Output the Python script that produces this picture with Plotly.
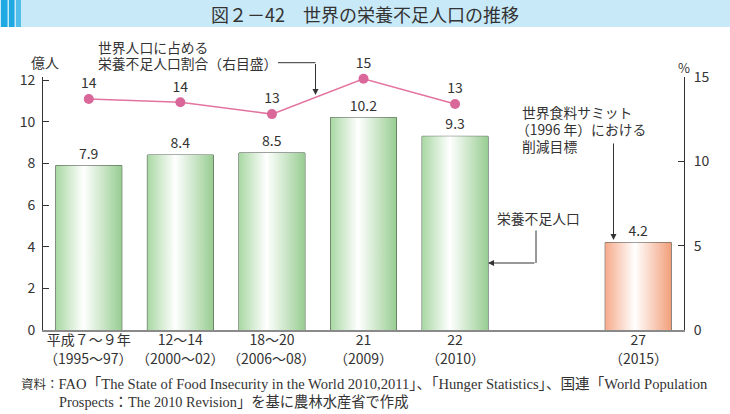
import plotly.graph_objects as go

# ---------------- data ----------------
period_jp = ["平成７～９年", "12～14", "18～20", "21", "22", "27"]
period_ad = ["（1995～97）", "（2000～02）", "（2006～08）", "（2009）", "（2010）", "（2015）"]
x_pos = [0, 1, 2, 3, 4, 6]                     # slot 5 left empty
undernourished = [7.9, 8.4, 8.5, 10.2, 9.3, 4.2]  # 億人
bar_kind = ["actual", "actual", "actual", "actual", "actual", "target"]
share_pct = [13.7, 13.5, 12.8, 14.9, 13.4]       # % (right axis)
share_labels = ["14", "14", "13", "15", "13"]
left_ticks = [0, 2, 4, 6, 8, 10, 12]
right_ticks = [0, 5, 10, 15]

# ---------------- layout geometry ----------------
W, H = 730, 414
L, R, T, B = 43, 46, 77, 84
PW, PH = W - L - R, H - T - B
BAR_W = 0.72


def fx(px):
    return (px - L) / PW


def fy(py):
    return (H - B - py) / PH


CJK = "Noto Sans CJK JP"
TXT = "#333333"

grad = {
    "actual": [[0, "#a9d8a3"], [0.42, "#ffffff"], [1, "#98cd92"]],
    "target": [[0, "#f6ab8b"], [0.45, "#ffffff"], [1, "#f29f7b"]],
}

fig = go.Figure()

# gradient fills under each bar
for xp, v, k in zip(x_pos, undernourished, bar_kind):
    x0, x1 = xp - BAR_W / 2, xp + BAR_W / 2
    fig.add_trace(go.Scatter(
        x=[x0, x0, x1, x1, x0], y=[0, v, v, 0, 0],
        mode="lines", line=dict(width=0), fill="toself",
        fillgradient=dict(type="horizontal", colorscale=grad[k]),
        hoverinfo="skip", showlegend=False))

# bar outlines + value labels
fig.add_trace(go.Bar(
    x=x_pos, y=undernourished, width=BAR_W,
    marker=dict(color="rgba(0,0,0,0)", line=dict(color="#38423a", width=1)),
    text=[f"{v:.1f}" for v in undernourished], textposition="outside",
    textfont=dict(family=CJK, size=14, color=TXT), cliponaxis=False,
    showlegend=False))

# share line (right axis)
fig.add_trace(go.Scatter(
    x=x_pos[:len(share_pct)], y=share_pct, yaxis="y2",
    mode="lines+markers+text",
    line=dict(color="#e3739f", width=1.5),
    marker=dict(size=10, color="#d9679a"),
    text=share_labels, textposition="top center",
    textfont=dict(family=CJK, size=14, color=TXT), cliponaxis=False,
    showlegend=False))

shapes = [
    # title band
    dict(type="rect", xref="paper", yref="paper", x0=fx(0), x1=fx(W), y0=fy(27), y1=fy(0),
         fillcolor="#c8e9f8", line=dict(width=0), layer="below"),
    dict(type="rect", xref="paper", yref="paper", x0=fx(1), x1=fx(7.5), y0=fy(27), y1=fy(0),
         fillcolor="#1fa9e3", line=dict(width=0)),
    dict(type="rect", xref="paper", yref="paper", x0=fx(9), x1=fx(14.5), y0=fy(27), y1=fy(0),
         fillcolor="#1fa9e3", line=dict(width=0)),
    dict(type="rect", xref="paper", yref="paper", x0=fx(16), x1=fx(21), y0=fy(27), y1=fy(0),
         fillcolor="#52bfea", line=dict(width=0)),
    # connector segments
    dict(type="line", xref="paper", yref="paper", x0=fx(278), x1=fx(315.5), y0=fy(62.7), y1=fy(62.7),
         line=dict(color="#333", width=1)),
    dict(type="line", xref="paper", yref="paper", x0=fx(536), x1=fx(536), y0=fy(230.5), y1=fy(263),
         line=dict(color="#333", width=1)),
]

note_font = dict(family=CJK, size=13.8, color=TXT)
ann = [
    dict(text="図２－42　世界の栄養不足人口の推移", x=fx(365), y=fy(14), xanchor="center", yanchor="middle",
         font=dict(family=CJK, size=18, color=TXT)),
    dict(text="億人", x=fx(45), y=fy(62), xanchor="center", yanchor="middle",
         font=dict(family=CJK, size=14, color=TXT)),
    dict(text="%", x=fx(684), y=fy(67), xanchor="center", yanchor="middle",
         font=dict(family=CJK, size=13, color=TXT)),
    dict(text="世界人口に占める", x=fx(96), y=fy(46.5), xanchor="left", yanchor="middle", font=note_font),
    dict(text="栄養不足人口割合（右目盛）", x=fx(96), y=fy(62.7), xanchor="left", yanchor="middle", font=note_font),
    dict(text="世界食料サミット", x=fx(520), y=fy(112), xanchor="left", yanchor="middle", font=note_font),
    dict(text="（1996 年）における", x=fx(514), y=fy(129), xanchor="left", yanchor="middle", font=note_font),
    dict(text="削減目標", x=fx(520), y=fy(146), xanchor="left", yanchor="middle", font=note_font),
    dict(text="栄養不足人口", x=fx(495), y=fy(218), xanchor="left", yanchor="middle", font=note_font),
    # footnote
    dict(text="<span style='font-size:12.5px'>資料：</span>FAO「The State of Food Insecurity in the World 2010,2011」、「Hunger Statistics」、国連「World Population",
         x=fx(19), y=fy(384), xanchor="left", yanchor="middle",
         font=dict(family="Liberation Serif, " + CJK, size=14.6, color=TXT)),
    dict(text="Prospects：The 2010 Revision」を基に農林水産省で作成",
         x=fx(57), y=fy(402), xanchor="left", yanchor="middle",
         font=dict(family="Liberation Serif, " + CJK, size=14.3, color=TXT)),
]
for a in ann:
    a.update(xref="paper", yref="paper", showarrow=False)

# second line of category labels (Western years), placed on the data x scale
for xp, lab in zip(x_pos, period_ad):
    ann.append(dict(text=lab, x=xp, xref="x", y=fy(357.5), yref="paper", xanchor="center",
                    yanchor="middle", showarrow=False,
                    font=dict(family=CJK, size=14, color=TXT)))

# arrows (final segment of each connector)
arrows = [
    ((315.5, 95), 0, -32.5),
    ((613.5, 240), 0, -98),
    ((488, 263), 48, 0),
]
for (tx, ty), ax, ay in arrows:
    ann.append(dict(text="", x=fx(tx), y=fy(ty), xref="paper", yref="paper",
                    showarrow=True, ax=ax, ay=ay, arrowhead=2, arrowsize=1.2,
                    arrowwidth=1, arrowcolor="#333", standoff=0, startstandoff=0))

fig.update_layout(
    width=W, height=H, margin=dict(l=L, r=R, t=T, b=B),
    paper_bgcolor="white", plot_bgcolor="white",
    barmode="overlay", showlegend=False,
    font=dict(family=CJK, color=TXT),
    shapes=shapes, annotations=ann,
    xaxis=dict(range=[-0.5, 6.5], tickvals=x_pos, ticktext=period_jp,
               showgrid=False, zeroline=False, showline=True, linecolor="#8a8a8a", linewidth=2,
               ticks="", ticklabelstandoff=-4, tickfont=dict(family=CJK, size=14, color=TXT)),
    yaxis=dict(range=[0, 12.15], tickvals=left_ticks, showgrid=False, zeroline=False,
               showline=True, linecolor="#333", linewidth=1, ticks="inside", ticklen=6,
               tickcolor="#333", ticklabelstandoff=4,
               tickfont=dict(family=CJK, size=14, color=TXT)),
    yaxis2=dict(range=[0, 15], tickvals=right_ticks, overlaying="y", side="right", anchor="x",
                showgrid=False, zeroline=False, showline=True, linecolor="#333", linewidth=1,
                ticks="inside", ticklen=6, tickcolor="#333", ticklabelstandoff=6,
                tickfont=dict(family=CJK, size=14, color=TXT)),
)

fig.write_html("out.html", config={"displayModeBar": False},
               post_script="document.body.style.margin='0';")
